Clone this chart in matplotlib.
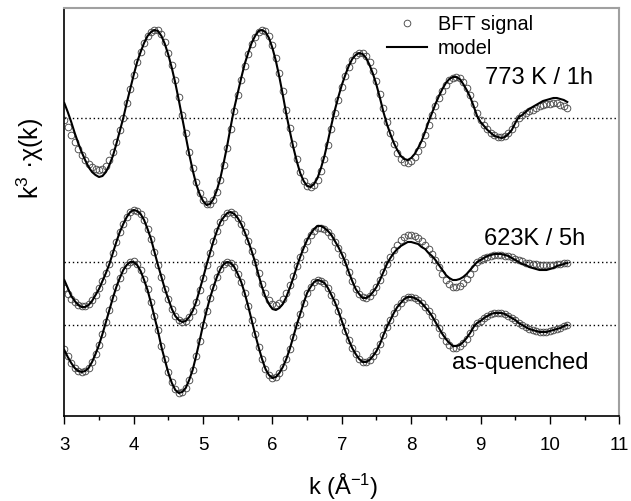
import numpy as np
import matplotlib
matplotlib.use("Agg")
import matplotlib.pyplot as plt
from matplotlib.lines import Line2D
from matplotlib.ticker import MultipleLocator

plt.rcParams['font.family'] = ['Liberation Sans', 'DejaVu Sans']
plt.rcParams['mathtext.fontset'] = 'custom'
plt.rcParams['mathtext.rm'] = 'Liberation Sans'
plt.rcParams['mathtext.it'] = 'Liberation Sans:italic'

# k grid (Å^-1), step 0.05 from 3.00 to 10.25
k = np.round(np.arange(3.0, 10.2501, 0.05), 2)

# ---------- 773 K / 1h ----------
top_signal = [
    -2, -9, -17, -24, -31, -37, -42, -46, -49, -51,
    -52, -51, -48, -42, -34, -24, -12, 0, 15, 29,
    43, 56, 66, 75, 82, 86, 88, 88, 84, 76,
    65, 53, 38, 21, 3, -15, -34, -50, -64, -75,
    -82, -86, -86, -82, -74, -62, -47, -30, -11, 7,
    23, 38, 52, 64, 74, 81, 86, 88, 87, 82,
    73, 60, 45, 27, 8, -10, -26, -41, -54, -63,
    -68, -69, -67, -62, -53, -41, -27, -11, 5, 18,
    31, 42, 51, 58, 63, 65, 65, 62, 56, 47,
    37, 24, 10, -4, -15, -26, -35, -41, -44, -45,
    -43, -39, -33, -26, -17, -7, 3, 12, 20, 27,
    33, 38, 40, 41, 40, 36, 30, 23, 14, 5,
    -2, -7, -11, -15, -17, -19, -19, -18, -15, -11,
    -6, 0, 3, 5, 7, 8, 10, 12, 13, 14,
    14, 15, 15, 13, 12, 10]
top_model = [
    15, 6, -4, -15, -25, -34, -42, -49, -54, -57,
    -59, -58, -54, -47, -38, -26, -13, 0, 15, 29,
    43, 56, 66, 75, 82, 86, 88, 87, 82, 74,
    63, 50, 35, 18, 0, -18, -36, -52, -66, -76,
    -83, -87, -86, -81, -72, -60, -44, -27, -8, 10,
    25, 40, 54, 65, 75, 82, 87, 88, 86, 80,
    70, 57, 41, 23, 4, -13, -29, -43, -55, -63,
    -68, -69, -66, -60, -50, -38, -23, -7, 8, 21,
    33, 43, 52, 59, 63, 65, 64, 60, 53, 44,
    33, 20, 6, -6, -16, -25, -32, -38, -41, -42,
    -40, -36, -30, -23, -14, -4, 5, 14, 22, 29,
    35, 39, 41, 41, 39, 34, 28, 21, 12, 2,
    -4, -8, -12, -15, -18, -19, -20, -19, -16, -12,
    -5, 1, 3, 6, 9, 11, 13, 15, 17, 18,
    19, 20, 20, 19, 18, 16]

# ---------- 623K / 5h ----------
mid_signal = [
    -26, -32, -37, -40, -43, -44, -44, -42, -38, -33,
    -26, -19, -11, -2, 9, 20, 30, 38, 45, 50,
    52, 51, 48, 42, 33, 23, 10, -3, -15, -27,
    -37, -47, -54, -58, -60, -59, -55, -49, -40, -28,
    -16, -3, 9, 21, 31, 40, 45, 49, 50, 48,
    44, 38, 30, 21, 11, 0, -11, -22, -31, -38,
    -42, -43, -41, -37, -31, -23, -14, -4, 5, 13,
    21, 27, 31, 34, 34, 33, 30, 26, 20, 14,
    7, 0, -10, -19, -27, -32, -35, -36, -34, -30,
    -25, -18, -10, -2, 5, 12, 17, 22, 25, 27,
    27, 26, 24, 21, 17, 13, 8, 2, -5, -12,
    -18, -22, -25, -25, -24, -21, -17, -12, -6, 0,
    2, 4, 5, 6, 7, 7, 7, 6, 6, 5,
    3, 2, 1, -1, -1, -2, -2, -3, -3, -3,
    -3, -3, -2, -2, -1, -1]
mid_model = [
    -18, -26, -34, -39, -43, -45, -45, -43, -39, -33,
    -27, -19, -11, -2, 9, 20, 30, 38, 45, 50,
    52, 51, 48, 42, 33, 23, 10, -3, -15, -27,
    -37, -47, -54, -58, -60, -59, -55, -49, -40, -28,
    -16, -3, 9, 21, 31, 40, 45, 49, 50, 48,
    44, 38, 30, 21, 11, 0, -13, -25, -35, -42,
    -47, -48, -46, -42, -35, -26, -16, -5, 5, 14,
    22, 28, 33, 36, 36, 34, 31, 27, 21, 15,
    8, 0, -10, -19, -27, -32, -36, -36, -34, -30,
    -25, -18, -10, -2, 4, 9, 13, 16, 18, 20,
    20, 19, 18, 15, 13, 9, 6, 2, -3, -8,
    -13, -16, -18, -18, -17, -15, -12, -8, -4, 0,
    2, 4, 6, 7, 8, 8, 8, 7, 6, 4,
    2, 0, -2, -3, -5, -6, -7, -8, -8, -8,
    -7, -6, -4, -3, -2, -1]

# ---------- as-quenched ----------
low_signal = [
    -24, -31, -38, -43, -46, -47, -46, -43, -37, -29,
    -20, -9, 3, 15, 27, 38, 47, 55, 60, 63,
    64, 61, 55, 46, 36, 23, 9, -5, -21, -34,
    -47, -57, -64, -68, -67, -63, -55, -45, -31, -16,
    0, 14, 27, 38, 48, 56, 61, 63, 62, 58,
    51, 43, 32, 19, 5, -9, -22, -34, -44, -50,
    -53, -52, -48, -42, -34, -24, -12, 0, 11, 22,
    32, 38, 43, 45, 44, 42, 37, 30, 23, 14,
    4, -6, -15, -23, -29, -34, -37, -37, -35, -31,
    -26, -19, -10, -2, 5, 12, 18, 22, 26, 28,
    28, 27, 25, 22, 18, 14, 9, 3, -3, -10,
    -16, -20, -23, -23, -21, -18, -14, -8, -2, 2,
    4, 7, 9, 11, 12, 12, 12, 11, 9, 7,
    5, 2, 0, -2, -4, -5, -6, -7, -7, -7,
    -6, -5, -4, -3, -1, 0]
low_model = [
    -25, -32, -38, -43, -46, -47, -46, -43, -37, -29,
    -20, -9, 3, 15, 27, 38, 47, 55, 60, 63,
    63, 60, 54, 45, 35, 22, 8, -6, -22, -35,
    -48, -58, -65, -68, -67, -63, -55, -45, -31, -16,
    0, 14, 27, 38, 48, 56, 61, 63, 62, 58,
    51, 43, 32, 19, 5, -9, -22, -34, -44, -50,
    -53, -52, -48, -42, -34, -24, -12, 0, 11, 22,
    32, 38, 43, 45, 44, 42, 37, 30, 23, 14,
    4, -6, -15, -23, -29, -34, -37, -37, -35, -31,
    -26, -19, -10, -2, 5, 12, 18, 22, 26, 28,
    28, 27, 25, 22, 18, 14, 9, 3, -3, -9,
    -14, -18, -21, -21, -20, -17, -13, -8, -2, 2,
    4, 7, 9, 11, 12, 12, 12, 11, 9, 7,
    5, 2, 0, -2, -4, -5, -6, -7, -7, -7,
    -6, -5, -4, -3, -1, 0]

offsets = [297.7, 153.7, 90.7]
labels = ["773 K / 1h", "623K / 5h", "as-quenched"]
signals = [top_signal, mid_signal, low_signal]
models = [top_model, mid_model, low_model]
label_pos = [(9.84, 337.5), (9.78, 177.0), (9.57, 53.0)]

fig = plt.figure(figsize=(6.31, 5.01), dpi=100)
ax = fig.add_axes([64.3 / 631, (501 - 415.7) / 501, 555 / 631, 408.2 / 501])

for off, sig, mod, lab, pos in zip(offsets, signals, models, labels, label_pos):
    ax.axhline(off, color='black', lw=1.0, ls=(0, (1, 2)), zorder=1)
    ax.plot(k, np.array(sig) + off, ls='none', marker='o', ms=4.8, mfc='none',
            mec='#4a4a4a', mew=0.65, zorder=2)
    ax.plot(k, np.array(mod) + off, color='black', lw=1.5, zorder=3)
    ax.text(pos[0], pos[1], lab, ha='center', va='center', fontsize=17)

ax.set_xlim(3, 11)
ax.set_ylim(0, 408.2)
ax.xaxis.set_major_locator(MultipleLocator(1))
ax.xaxis.set_minor_locator(MultipleLocator(0.5))
ax.tick_params(axis='x', which='major', direction='out', length=6, width=1.0,
               pad=9, labelsize=13.5)
ax.tick_params(axis='x', which='minor', direction='out', length=3, width=1.0)
ax.set_yticks([])
for s in ['left', 'bottom']:
    ax.spines[s].set_color('black')
    ax.spines[s].set_linewidth(1.2)
for s in ['top', 'right']:
    ax.spines[s].set_color('#a0a0a0')
    ax.spines[s].set_linewidth(1.5)

handles = [Line2D([], [], ls='none', marker='o', ms=4.8, mfc='none', mec='#4a4a4a', mew=0.65),
           Line2D([], [], color='black', lw=1.5)]
ax.legend(handles, ["BFT signal", "model"], loc='upper left',
          bbox_to_anchor=(0.5815, 0.982), frameon=False, borderpad=0,
          borderaxespad=0, handlelength=2.0, handletextpad=0.55,
          labelspacing=0.25, fontsize=14.3)

fig.text(343 / 631, 1 - 487 / 501, r"k (Å$^{\mathrm{-1}}$)", ha='center', va='center', fontsize=17)
fig.text(30 / 631, 1 - 158 / 501, r"k$^{3}$ ·χ(k)", ha='center', va='center',
         rotation=90, fontsize=18)

fig.savefig("out.png", dpi=100)
